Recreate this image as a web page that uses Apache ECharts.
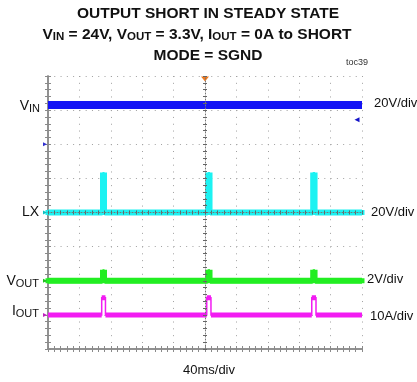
<!DOCTYPE html>
<html>
<head>
<meta charset="utf-8">
<script src="https://cdn.jsdelivr.net/npm/echarts@6/dist/echarts.min.js"></script>
<style>
html,body{margin:0;padding:0;background:#fff;}
#chart{width:417px;height:382px;}
</style>
</head>
<body>
<div id="chart"></div>
<script>
// ---- data (time in ms, 40 ms/div) ----
const vinTime = [0, 400];
const vinV    = [23, 23];                       // V, 20 V/div
const lxTime  = [0, 69.4, 69.4, 72.0, 72.0, 203.4, 203.4, 206.4, 206.4, 337.2, 337.2, 340.2, 340.2, 400];
const lxV     = [0, 0, 22, 22, 0, 0, 22, 22, 0, 0, 22, 22, 0, 0];              // V, 20 V/div
const voutV   = [0, 0, 0.5, 0.5, 0, 0, 0.5, 0.5, 0, 0, 0.5, 0.5, 0, 0];       // V, 2 V/div
const ioutTime = [0, 68.4, 68.4, 73.2, 73.2, 202.2, 202.2, 207.6, 207.6, 336, 336, 341.4, 341.4, 400];
const ioutA   = [0, 0, 5, 5, 0, 0, 5, 5, 0, 0, 5, 5, 0, 0];                    // A, 10 A/div
const trigTime = 200;
const vinTrigLevel = 14.4;

function pts(t, v) { return t.map((x, i) => [x, v[i]]); }
function flats(t, v) {
  const out = [];
  for (let i = 0; i < t.length - 1; i++) {
    if (v[i] === v[i + 1]) { out.push([t[i], v[i]], [t[i + 1], v[i + 1]], [t[i + 1], '-']); }
  }
  return out;
}

const GRID = '#a0a0a0';
const BORDER = '#8a8a8a';
const FONT = '"Liberation Sans", Arial, sans-serif';

function borderX(pos, inside, extra) {
  return Object.assign({
    type: 'value', min: 0, max: 400, interval: 40, position: pos,
    axisLine: { show: true, lineStyle: { color: BORDER, width: 1.5 } },
    axisTick: { show: true, inside: inside, length: 3, lineStyle: { color: BORDER } },
    minorTick: { show: true, splitNumber: 5, length: 3, lineStyle: { color: BORDER } },
    axisLabel: { show: false }, splitLine: { show: false }
  }, extra || {});
}
function borderY(pos, inside, extra) {
  return Object.assign({
    type: 'value', min: 0, max: 8, interval: 1, position: pos,
    axisLine: { show: true, lineStyle: { color: BORDER, width: 1.5 } },
    axisTick: { show: true, inside: inside, length: 3, lineStyle: { color: BORDER } },
    minorTick: { show: true, splitNumber: 5, length: 3, lineStyle: { color: BORDER } },
    axisLabel: { show: false }, splitLine: { show: false }
  }, extra || {});
}
function centerLine() {
  return { show: true, lineStyle: { color: '#777', width: 1, type: [1, 2] } };
}
function chanY(min, max) {
  return { type: 'value', min: min, max: max, show: false, splitLine: { show: false } };
}

const chart = echarts.init(document.getElementById('chart'), null, { renderer: 'canvas' });

const markerBase = { symbol: 'triangle', symbolRotate: -90, symbolSize: [4, 4], symbolOffset: [-3, 0], label: { show: false } };

chart.setOption({
  animation: false,
  backgroundColor: '#fff',
  grid: { left: 48, top: 76, width: 314, height: 273, containLabel: false },
  xAxis: [
    borderX('bottom', true, {
      splitLine: { show: true, lineStyle: { color: GRID, width: 1, type: [1, 5.82] } }
    }),
    borderX('top', true),
    borderX('bottom', true, { offset: -136.5, z: 5, axisLine: centerLine(), axisTick: { show: true, inside: true, length: 2, lineStyle: { color: '#666' } }, minorTick: { show: true, splitNumber: 5, length: 2, lineStyle: { color: '#666' } } }),
    borderX('bottom', false, { offset: -136.5, z: 5, axisLine: { show: false }, axisTick: { show: true, inside: false, length: 2, lineStyle: { color: '#666' } }, minorTick: { show: true, splitNumber: 5, length: 2, lineStyle: { color: '#666' } } })
  ],
  yAxis: [
    borderY('left', true, {
      splitLine: { show: true, lineStyle: { color: GRID, width: 1, type: [1, 5.28] } }
    }),
    borderY('right', true),
    borderY('left', true, { offset: -157, z: 5, axisLine: centerLine(), axisTick: { show: true, inside: true, length: 2, lineStyle: { color: '#666' } }, minorTick: { show: true, splitNumber: 5, length: 2, lineStyle: { color: '#666' } } }),
    borderY('left', false, { offset: -157, z: 5, axisLine: { show: false }, axisTick: { show: true, inside: false, length: 2, lineStyle: { color: '#666' } }, minorTick: { show: true, splitNumber: 5, length: 2, lineStyle: { color: '#666' } } }),
    chanY(-120, 40),   // 4: VIN 20 V/div
    chanY(-80, 80),    // 5: LX 20 V/div
    chanY(-4, 12),     // 6: VOUT 2 V/div
    chanY(-10, 70)     // 7: IOUT 10 A/div
  ],
  series: [
    {
      name: 'VIN', type: 'line', xAxisIndex: 0, yAxisIndex: 4, data: pts(vinTime, vinV),
      showSymbol: false, symbol: 'none', lineStyle: { color: '#1414f5', width: 8 }, z: 3,
      markPoint: {
        silent: true,
        data: [
          { coord: [trigTime, 40], symbol: 'triangle', symbolRotate: 180, symbolSize: [8, 5], symbolOffset: [0, 3], itemStyle: { color: '#f07a1e' }, label: { show: false } },
          { coord: [400, vinTrigLevel], symbol: 'triangle', symbolRotate: 90, symbolSize: [5, 5], symbolOffset: [-5, 0], itemStyle: { color: '#1414c8' }, label: { show: false } },
          Object.assign({ coord: [0, 0], itemStyle: { color: '#3030d0' } }, markerBase)
        ]
      }
    },
    {
      name: 'LX', type: 'line', xAxisIndex: 0, yAxisIndex: 5, data: pts(lxTime, lxV),
      showSymbol: false, symbol: 'none', lineStyle: { color: '#1cf2f2', width: 5, join: 'miter', cap: 'square' }, z: 3,
      markPoint: { silent: true, data: [Object.assign({ coord: [0, 0], itemStyle: { color: '#10c0c0' } }, markerBase)] }
    },
    {
      name: 'LX band', type: 'line', xAxisIndex: 0, yAxisIndex: 5, data: flats(lxTime, lxV),
      showSymbol: false, symbol: 'none', connectNulls: false, lineStyle: { color: '#1cf2f2', width: 6 }, z: 3
    },
    {
      name: 'VOUT', type: 'line', xAxisIndex: 0, yAxisIndex: 6, data: pts(lxTime, voutV),
      showSymbol: false, symbol: 'none', lineStyle: { color: '#22ee22', width: 5, join: 'miter', cap: 'square' }, z: 3,
      markPoint: { silent: true, data: [Object.assign({ coord: [0, 0], itemStyle: { color: '#20c020' } }, markerBase)] }
    },
    {
      name: 'VOUT band', type: 'line', xAxisIndex: 0, yAxisIndex: 6, data: flats(lxTime, voutV),
      showSymbol: false, symbol: 'none', connectNulls: false, lineStyle: { color: '#22ee22', width: 6 }, z: 3
    },
    {
      name: 'IOUT', type: 'line', xAxisIndex: 0, yAxisIndex: 7, data: pts(ioutTime, ioutA),
      showSymbol: false, symbol: 'none', lineStyle: { color: '#f21cf2', width: 1.5, join: 'miter' }, z: 3,
      markPoint: { silent: true, data: [Object.assign({ coord: [0, 0], itemStyle: { color: '#c020c0' } }, markerBase)] }
    },
    {
      name: 'IOUT band', type: 'line', xAxisIndex: 0, yAxisIndex: 7, data: flats(ioutTime, ioutA),
      showSymbol: false, symbol: 'none', connectNulls: false, lineStyle: { color: '#f21cf2', width: 5 }, z: 3
    }
  ],
  graphic: [
    { type: 'text', x: 208, y: 14, style: { text: 'OUTPUT SHORT IN STEADY STATE', font: 'bold 15.5px ' + FONT, fill: '#111', align: 'center', verticalAlign: 'middle' } },
    { type: 'text', x: 197, y: 35, style: {
        text: '{m|V}{s|IN}{m| = 24V, V}{s|OUT}{m| = 3.3V, I}{s|OUT}{m| = 0A to SHORT}',
        align: 'center', verticalAlign: 'middle',
        rich: { m: { font: 'bold 15.5px ' + FONT, fill: '#111', lineHeight: 16, verticalAlign: 'middle' },
                s: { font: 'bold 11.5px ' + FONT, fill: '#111', lineHeight: 9, verticalAlign: 'bottom' } } } },
    { type: 'text', x: 208, y: 56, style: { text: 'MODE = SGND', font: 'bold 15.5px ' + FONT, fill: '#111', align: 'center', verticalAlign: 'middle' } },
    { type: 'text', x: 357, y: 63, style: { text: 'toc39', font: '9px ' + FONT, fill: '#333', align: 'center', verticalAlign: 'middle' } },
    { type: 'text', x: 40, y: 106, style: { text: '{m|V}{s|IN}', align: 'right', verticalAlign: 'middle',
        rich: { m: { font: '14px ' + FONT, fill: '#111', lineHeight: 16, verticalAlign: 'middle' }, s: { font: '11px ' + FONT, fill: '#111', lineHeight: 9, verticalAlign: 'bottom' } } } },
    { type: 'text', x: 39, y: 212, style: { text: 'LX', font: '14px ' + FONT, fill: '#111', align: 'right', verticalAlign: 'middle' } },
    { type: 'text', x: 39, y: 281, style: { text: '{m|V}{s|OUT}', align: 'right', verticalAlign: 'middle',
        rich: { m: { font: '14px ' + FONT, fill: '#111', lineHeight: 16, verticalAlign: 'middle' }, s: { font: '11px ' + FONT, fill: '#111', lineHeight: 9, verticalAlign: 'bottom' } } } },
    { type: 'text', x: 39, y: 311, style: { text: '{m|I}{s|OUT}', align: 'right', verticalAlign: 'middle',
        rich: { m: { font: '14px ' + FONT, fill: '#111', lineHeight: 16, verticalAlign: 'middle' }, s: { font: '11px ' + FONT, fill: '#111', lineHeight: 9, verticalAlign: 'bottom' } } } },
    { type: 'text', x: 374, y: 103, style: { text: '20V/div', font: '13px ' + FONT, fill: '#111', verticalAlign: 'middle' } },
    { type: 'text', x: 371, y: 212, style: { text: '20V/div', font: '13px ' + FONT, fill: '#111', verticalAlign: 'middle' } },
    { type: 'text', x: 367, y: 279, style: { text: '2V/div', font: '13px ' + FONT, fill: '#111', verticalAlign: 'middle' } },
    { type: 'text', x: 370, y: 316, style: { text: '10A/div', font: '13px ' + FONT, fill: '#111', verticalAlign: 'middle' } },
    { type: 'text', x: 209, y: 370, style: { text: '40ms/div', font: '13px ' + FONT, fill: '#111', align: 'center', verticalAlign: 'middle' } }
  ]
});
</script>
</body>
</html>
